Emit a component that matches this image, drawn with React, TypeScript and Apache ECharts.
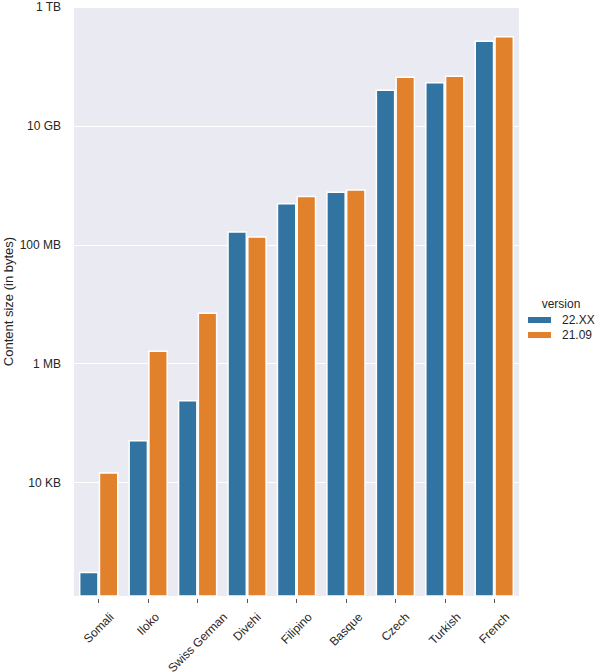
import { useEffect, useRef } from 'react';
import * as echarts from 'echarts';

// 语言分类及两个版本的内容大小（字节）
const languages = ['Somali', 'Iloko', 'Swiss German', 'Divehi', 'Filipino', 'Basque', 'Czech', 'Turkish', 'French'];
const sizes22XX = [316, 51900, 246000, 1.69e8, 5.07e8, 7.9e8, 4.1e10, 5.47e10, 2.73e11];
const sizes2109 = [15000, 1.67e6, 7.3e6, 1.39e8, 6.72e8, 8.57e8, 6.8e10, 7.06e10, 3.24e11];
const seriesNames = ['22.XX', '21.09'];

// y 轴刻度
const yTickValues = [1e4, 1e6, 1e8, 1e10, 1e12];
const yTickLabels = ['10 KB', '1 MB', '100 MB', '10 GB', '1 TB'];
const yMin = 124;
const yMax = 1e12;

const FONT = '"Liberation Sans", Arial, Helvetica, sans-serif';
const TEXT_COLOR = '#262626';

export default function App() {
  const chartRef = useRef<HTMLDivElement>(null);

  useEffect(() => {
    document.body.style.margin = '0';
    if (!chartRef.current) return;
    const chart = echarts.init(chartRef.current, null, { renderer: 'svg' });

    // 量取标签宽度，模仿 matplotlib 的居中旋转标签
    const ctx = document.createElement('canvas').getContext('2d')!;
    ctx.font = `12px ${FONT}`;
    const rich: Record<string, any> = {};
    languages.forEach((name, i) => {
      const w = ctx.measureText(name).width;
      rich['l' + i] = {
        fontSize: 12,
        fontFamily: FONT,
        color: TEXT_COLOR,
        padding: [w / 2, w / 2, 0, 0]
      };
    });

    const option = {
      animation: false,
      textStyle: { fontFamily: FONT },
      grid: {
        left: 74,
        right: 77,
        top: 7,
        bottom: 76,
        show: true,
        backgroundColor: '#EAEAF2',
        borderWidth: 0,
        outerBoundsMode: 'none'
      },
      legend: {
        orient: 'vertical',
        left: 528,
        top: 314,
        padding: 0,
        itemWidth: 23,
        itemHeight: 6,
        itemGap: 3,
        icon: 'rect',
        itemStyle: { borderWidth: 0 },
        textStyle: { fontSize: 12, color: TEXT_COLOR, fontFamily: FONT, padding: [0, 0, 0, 6] },
        data: seriesNames
      },
      graphic: [{
        type: 'text',
        x: 561,
        y: 304,
        style: {
          text: 'version',
          fontSize: 12,
          fontFamily: FONT,
          fill: TEXT_COLOR,
          textAlign: 'center',
          textVerticalAlign: 'middle'
        }
      }],
      xAxis: {
        type: 'category',
        data: languages,
        offset: 3,
        axisLine: { show: false },
        axisTick: { show: true, alignWithLabel: true, length: 4, lineStyle: { color: '#555', width: 1 } },
        splitLine: { show: false },
        axisLabel: {
          interval: 0,
          rotate: 45,
          margin: 16,
          align: 'center',
          verticalAlign: 'middle',
          formatter: (value: string, idx: number) => `{l${idx}|${value}}`,
          rich
        }
      },
      yAxis: {
        type: 'log',
        logBase: 100,
        min: yMin,
        max: yMax,
        name: 'Content size (in bytes)',
        nameLocation: 'middle',
        nameGap: 59,
        nameMoveOverlap: false,
        nameTextStyle: { fontSize: 13, color: TEXT_COLOR, fontFamily: FONT },
        axisLine: { show: false },
        axisTick: { show: false },
        splitLine: { show: true, showMinLine: false, lineStyle: { color: '#ffffff', width: 1.2 } },
        axisLabel: {
          margin: 13,
          fontSize: 12,
          color: TEXT_COLOR,
          fontFamily: FONT,
          formatter: (v: number) => {
            const idx = yTickValues.findIndex(t => Math.abs(Math.log10(v) - Math.log10(t)) < 0.01);
            return idx >= 0 ? yTickLabels[idx] : '';
          }
        }
      },
      series: [{
        name: seriesNames[0],
        type: 'bar',
        data: sizes22XX,
        barWidth: '40%',
        barGap: '0%',
        itemStyle: { color: '#3274A1', borderColor: '#ffffff', borderWidth: 1.5 }
      }, {
        name: seriesNames[1],
        type: 'bar',
        data: sizes2109,
        barWidth: '40%',
        barGap: '0%',
        itemStyle: { color: '#E1812C', borderColor: '#ffffff', borderWidth: 1.5 }
      }]
    };

    chart.setOption(option);

    return () => {
      chart.dispose();
    };
  }, []);

  return <div ref={chartRef} style={{ width: 596, height: 672 }} />;
}
